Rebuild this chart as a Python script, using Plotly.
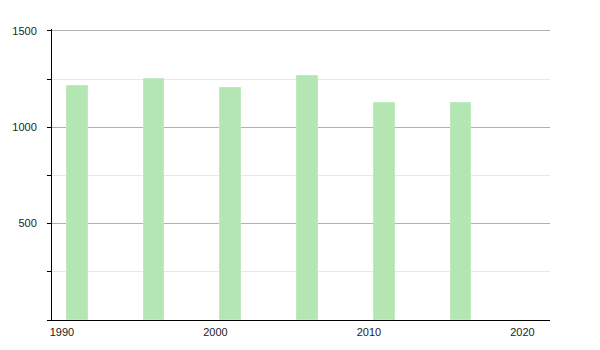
import plotly.graph_objects as go

years = [1991, 1996, 2001, 2006, 2011, 2016]
values = [1215, 1250, 1205, 1268, 1125, 1125]
x_ticks = [1990, 2000, 2010, 2020]
y_ticks = [500, 1000, 1500]

fig = go.Figure()
fig.add_trace(go.Bar(
    x=years, y=values, width=1.36,
    marker=dict(color="#b3e6b3", line=dict(color="#bfeabf", width=1)),
    hoverinfo="x+y",
))

fig.update_layout(
    width=600, height=350,
    margin=dict(l=50, r=50, t=29, b=30),
    paper_bgcolor="white", plot_bgcolor="white",
    showlegend=False,
    font=dict(family="Liberation Sans, Arial, sans-serif", size=11, color="#222"),
    bargap=0,
)
fig.update_xaxes(
    range=[1989.35, 2021.8], tickvals=x_ticks, ticktext=[str(v) for v in x_ticks],
    showgrid=False, showline=True, linecolor="black", linewidth=1,
    ticks="", zeroline=False, ticklabelstandoff=2,
)
fig.update_yaxes(
    range=[0, 1510], tickvals=y_ticks, ticktext=[str(v) for v in y_ticks],
    showgrid=True, gridcolor="#b0b0b0", gridwidth=1,
    showline=True, linecolor="black", linewidth=1,
    ticks="outside", ticklen=4, tickcolor="black", zeroline=False,
    ticklabelstandoff=8,
    minor=dict(dtick=250, tick0=0, ticks="outside", ticklen=4, tickcolor="black",
               showgrid=True, gridcolor="#e8e8e8", gridwidth=1),
)

fig.write_html("out.html")
